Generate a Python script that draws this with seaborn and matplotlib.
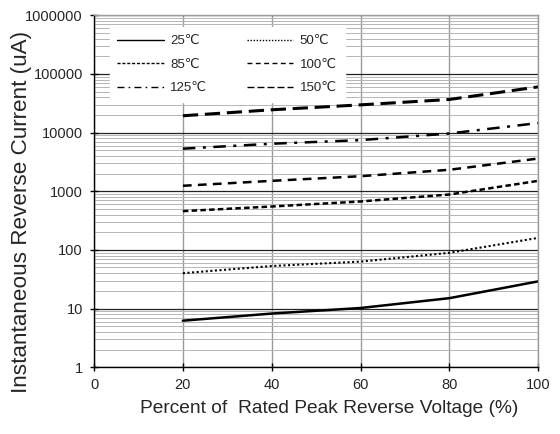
import matplotlib
matplotlib.use("Agg")
import matplotlib.pyplot as plt
import seaborn as sns
import pandas as pd
import numpy as np
from matplotlib.ticker import LogLocator, FixedLocator, NullFormatter, FixedFormatter

sns.set_theme(style="white")
plt.rcParams['font.family'] = ['Liberation Sans', 'DejaVu Sans']

voltage_pct = [20, 40, 60, 80, 100]
temps = ["25℃", "50℃", "85℃", "100℃", "125℃", "150℃"]
current_25 = [6.2, 8.2, 10.2, 15.0, 29.0]
current_50 = [40, 53, 63, 89, 160]
current_85 = [457, 548, 668, 878, 1500]
current_100 = [1236, 1500, 1800, 2316, 3600]
current_125 = [5300, 6440, 7420, 9620, 14500]
current_150 = [19300, 24400, 29600, 36600, 60000]
y_ticks = [1, 10, 100, 1000, 10000, 100000, 1000000]
y_ticklabels = ["1", "10", "100", "1000", "10000", "100000", "1000000"]
x_ticks = [0, 20, 40, 60, 80, 100]

series = [current_25, current_50, current_85, current_100, current_125, current_150]
styles = {
    "25℃": dict(ls="-", lw=1.8),
    "50℃": dict(ls=(0, (1, 1.2)), lw=1.5),
    "85℃": dict(ls=(0, (2.2, 1.3)), lw=1.8),
    "100℃": dict(ls=(0, (3.5, 2.5)), lw=1.8),
    "125℃": dict(ls=(0, (5, 3, 1.2, 3)), lw=1.8),
    "150℃": dict(ls=(0, (5, 2.2)), lw=2.2),
}

fig = plt.figure(figsize=(5.6, 4.34), dpi=100)
ax = fig.add_axes([0.168, 0.154, 0.793, 0.811])

lines = {}
for name, vals in zip(temps, series):
    df = pd.DataFrame({"x": voltage_pct, "y": vals})
    sns.lineplot(data=df, x="x", y="y", ax=ax, color="black", label=name,
                 linestyle=styles[name]["ls"], linewidth=styles[name]["lw"])
    lines[name] = ax.get_lines()[-1]

ax.set_yscale("log")
ax.set_xlim(0, 100)
ax.set_ylim(1, 1000000)
ax.yaxis.set_major_locator(FixedLocator(y_ticks))
ax.yaxis.set_major_formatter(FixedFormatter(y_ticklabels))
ax.yaxis.set_minor_locator(LogLocator(base=10, subs=np.arange(2, 10)))
ax.yaxis.set_minor_formatter(NullFormatter())
ax.set_xticks(x_ticks)

ax.grid(True, which="major", axis="y", color="#222222", lw=0.9)
ax.grid(True, which="minor", axis="y", color="#b5b5b5", lw=0.7)
ax.grid(True, which="major", axis="x", color="#9a9a9a", lw=1.0)
ax.set_axisbelow(True)

for s in ["left", "bottom"]:
    ax.spines[s].set_color("black")
    ax.spines[s].set_linewidth(1.0)
for s in ["top", "right"]:
    ax.spines[s].set_color("#9a9a9a")
    ax.spines[s].set_linewidth(1.0)

ax.tick_params(axis="both", which="major", direction="inout", length=6, width=1,
               color="black", labelsize=10.5, pad=5)
ax.tick_params(axis="y", which="minor", length=0)
ax.tick_params(left=True, bottom=True)
ax.set_xlabel("Percent of  Rated Peak Reverse Voltage (%)", fontsize=13.8)
ax.set_ylabel("Instantaneous Reverse Current (uA)", fontsize=16.2)
ax.xaxis.set_label_coords(0.53, -0.092)
ax.yaxis.set_label_coords(-0.14, 0.44)

order = ["25℃", "85℃", "125℃", "50℃", "100℃", "150℃"]
leg = ax.legend([lines[n] for n in order], order, ncol=2, loc="upper left",
                bbox_to_anchor=(0.02, 0.985), frameon=True, fancybox=False,
                edgecolor="white", framealpha=1.0, fontsize=9.5,
                handlelength=3.5, columnspacing=3.0, labelspacing=0.85,
                handletextpad=0.5, borderpad=0.6)
for h in leg.get_lines():
    h.set_linewidth(1.0)

fig.savefig("out.png", dpi=100)
